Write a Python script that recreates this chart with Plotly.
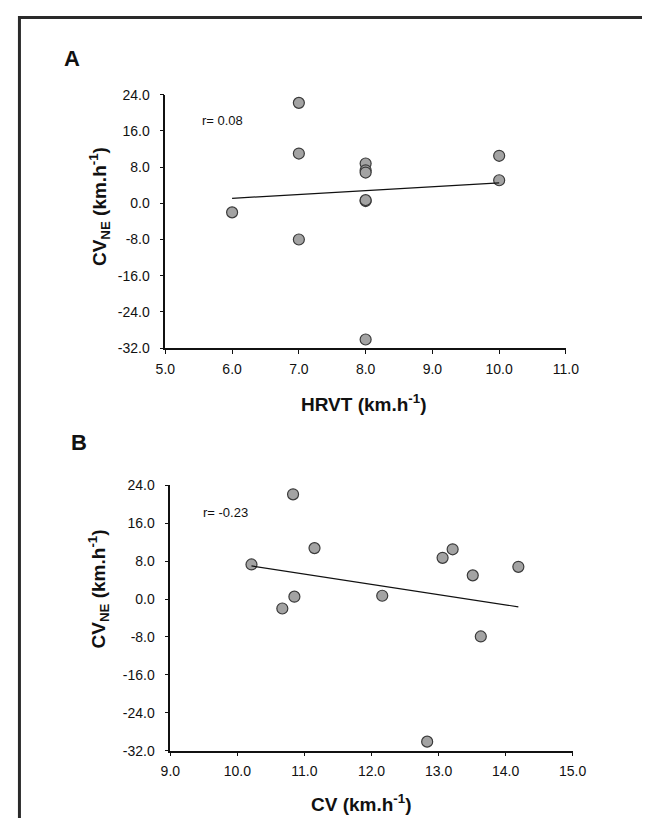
import numpy as np
import plotly.graph_objects as go

# ---------------- data ----------------
hrvt_a = [6.0, 7.0, 7.0, 7.0, 8.0, 8.0, 8.0, 8.0, 8.0, 8.0, 10.0, 10.0]
cvne_a = [-2.0, 22.2, 11.0, -8.0, 8.8, 7.3, 6.8, 0.5, 0.7, -30.1, 10.5, 5.1]

cv_b = [10.21, 10.67, 10.83, 10.85, 11.15, 12.16, 12.83, 13.06, 13.21, 13.51, 13.63, 14.19]
cvne_b = [7.3, -2.0, 22.1, 0.5, 10.75, 0.7, -30.1, 8.7, 10.5, 5.0, -7.9, 6.8]

r_a = "r= 0.08"
r_b = "r= -0.23"

y_tickvals = [-32, -24, -16, -8, 0, 8, 16, 24]
y_ticktext = ["-32.0", "-24.0", "-16.0", "-8.0", "0.0", "8.0", "16.0", "24.0"]
xa_tickvals = [5, 6, 7, 8, 9, 10, 11]
xa_ticktext = ["5.0", "6.0", "7.0", "8.0", "9.0", "10.0", "11.0"]
xb_tickvals = [9, 10, 11, 12, 13, 14, 15]
xb_ticktext = ["9.0", "10.0", "11.0", "12.0", "13.0", "14.0", "15.0"]

# The page body has an 8px margin; keep the whole page inside the 665x835 window
OFF = 8
W, H = 665 - 2 * OFF - 1, 835 - 2 * OFF - 1
FONT = "Liberation Sans, Arial, sans-serif"


def px_x(p):
    return (p - OFF) / W


def px_y(p):
    return 1 - (p - OFF) / H


def fit_line(x, y):
    k, b = np.polyfit(x, y, 1)
    xs = np.array([min(x), max(x)])
    return xs, k * xs + b


fig = go.Figure()

marker = dict(size=11, color="#a3a3a3", line=dict(color="#3a3a3a", width=1.2))

# Panel A
fig.add_trace(go.Scatter(x=hrvt_a, y=cvne_a, mode="markers", marker=marker,
                         xaxis="x", yaxis="y", showlegend=False))
lx, ly = fit_line(hrvt_a, cvne_a)
fig.add_trace(go.Scatter(x=lx, y=ly, mode="lines", line=dict(color="#111", width=1.2),
                         xaxis="x", yaxis="y", showlegend=False))

# Panel B
fig.add_trace(go.Scatter(x=cv_b, y=cvne_b, mode="markers", marker=marker,
                         xaxis="x2", yaxis="y2", showlegend=False))
lx, ly = fit_line(cv_b, cvne_b)
fig.add_trace(go.Scatter(x=lx, y=ly, mode="lines", line=dict(color="#111", width=1.2),
                         xaxis="x2", yaxis="y2", showlegend=False))

tickfont = dict(family=FONT, size=14, color="#111")
common_x = dict(showgrid=False, zeroline=False, showline=True, linecolor="#111", linewidth=1.5,
                ticks="outside", ticklen=4, tickwidth=1.2, tickcolor="#111",
                tickfont=tickfont, ticklabelstandoff=3)
common_y = dict(showgrid=False, zeroline=False, showline=True, linecolor="#111", linewidth=1.5,
                ticks="outside", ticklen=4, tickwidth=1.2, tickcolor="#111",
                tickfont=tickfont, range=[-32, 24], tickmode="array",
                tickvals=y_tickvals, ticktext=y_ticktext, ticklabelstandoff=7)

fig.update_layout(
    width=W, height=H,
    margin=dict(l=0, r=0, t=0, b=0),
    paper_bgcolor="white", plot_bgcolor="white",
    xaxis=dict(common_x, domain=[px_x(161), px_x(577)], range=[5, 11], tickmode="array",
               tickvals=xa_tickvals, ticktext=xa_ticktext, anchor="y"),
    yaxis=dict(common_y, domain=[px_y(346.7), px_y(88.3)], anchor="x"),
    xaxis2=dict(common_x, domain=[px_x(166.2), px_x(584)], range=[9, 15], tickmode="array",
                tickvals=xb_tickvals, ticktext=xb_ticktext, anchor="y2"),
    yaxis2=dict(common_y, domain=[px_y(757.3), px_y(486.7)], anchor="x2"),
)

ann = []
title_font = dict(family=FONT, size=19, color="#111")
letter_font = dict(family=FONT, size=22, color="#111")
r_font = dict(family=FONT, size=13, color="#111")
C = dict(xref="paper", yref="paper", showarrow=False, xanchor="center", yanchor="middle")
ann.append(dict(C, text="<b>A</b>", x=px_x(64), y=px_y(51), font=letter_font))
ann.append(dict(C, text="<b>B</b>", x=px_x(71), y=px_y(443), font=letter_font))
ann.append(dict(C, text="<b>HRVT (km.h<sup>-1</sup>)</b>", x=px_x(367), y=px_y(403), font=title_font))
ann.append(dict(C, text="<b>CV (km.h<sup>-1</sup>)</b>", x=px_x(365), y=px_y(811), font=title_font))
ann.append(dict(C, text="<b>CV<sub>NE</sub> (km.h<sup>-1</sup>)</b>", x=px_x(92), y=px_y(202),
                textangle=-90, font=title_font))
ann.append(dict(C, text="<b>CV<sub>NE</sub> (km.h<sup>-1</sup>)</b>", x=px_x(92), y=px_y(592),
                textangle=-90, font=title_font))
ann.append(dict(text=r_a, x=5.52, y=18.2, xref="x", yref="y", xanchor="left", yanchor="middle",
                showarrow=False, font=r_font))
ann.append(dict(text=r_b, x=9.46, y=18.3, xref="x2", yref="y2", xanchor="left", yanchor="middle",
                showarrow=False, font=r_font))
fig.update_layout(annotations=ann)

# Outer frame (top and left edges)
fig.add_shape(type="line", xref="paper", yref="paper", x0=0, x1=1, y0=px_y(9.5), y1=px_y(9.5),
              line=dict(color="#2a2a2a", width=3))
fig.add_shape(type="line", xref="paper", yref="paper", x0=px_x(9.5), x1=px_x(9.5), y0=0, y1=px_y(8),
              line=dict(color="#2a2a2a", width=3))

fig.write_html("out.html")
